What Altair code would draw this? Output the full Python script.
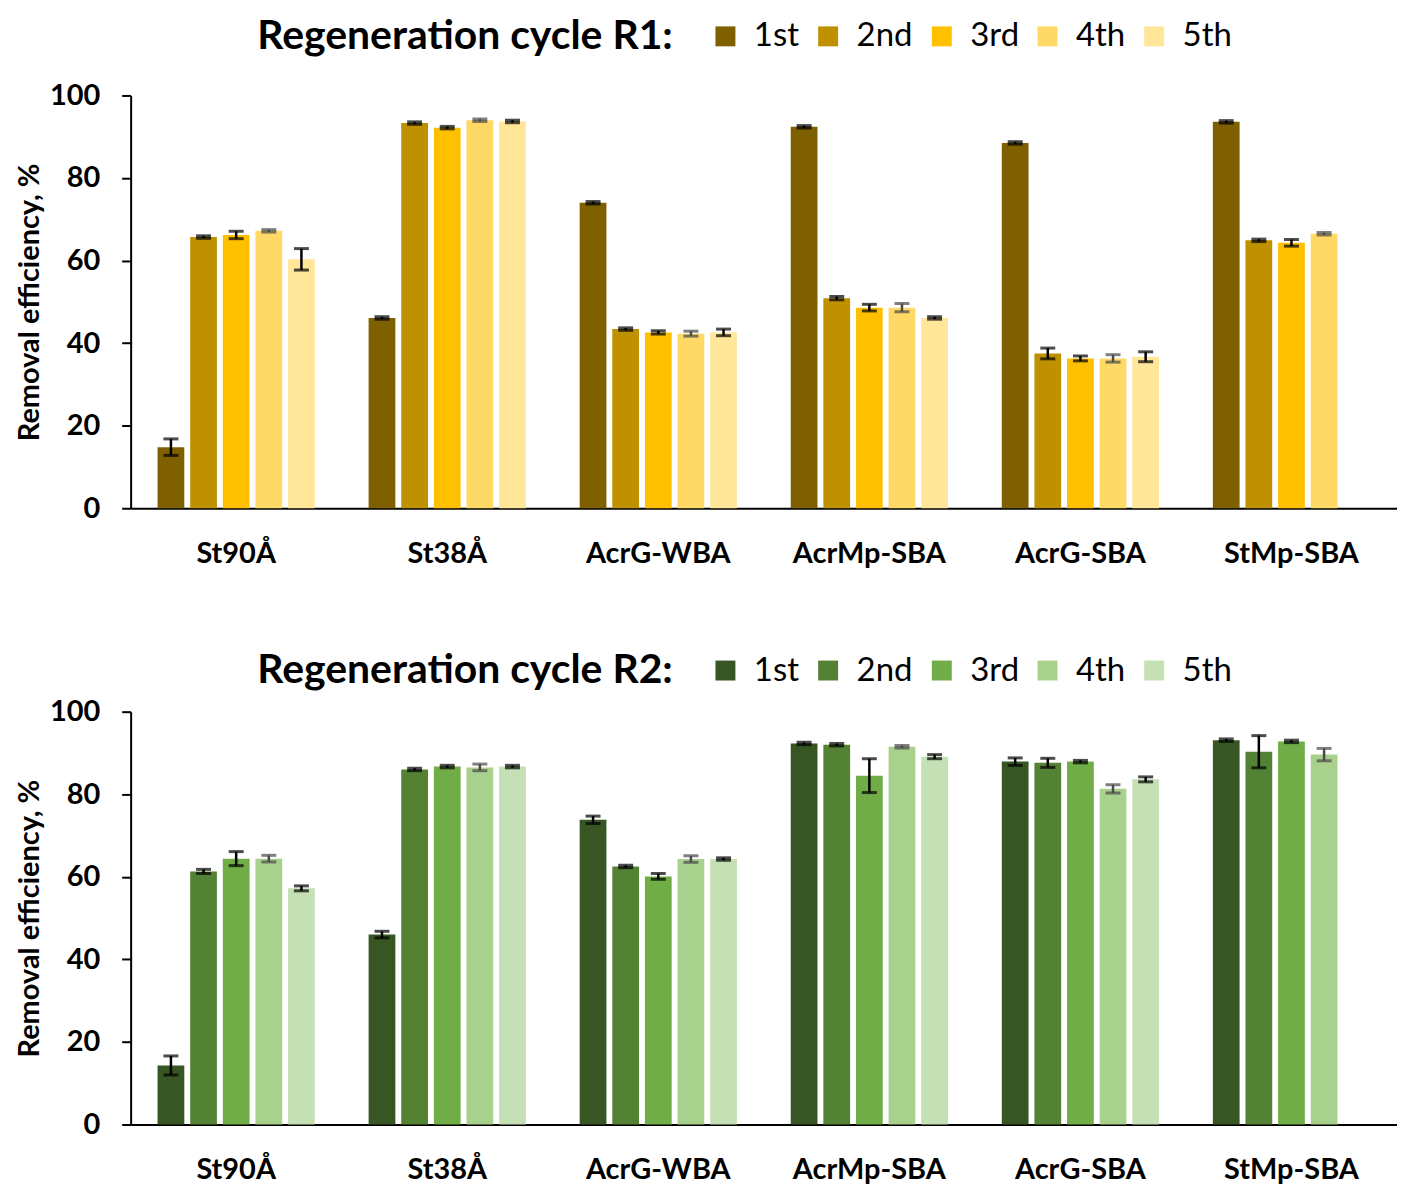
import altair as alt
import pandas as pd

groups = ["St90Å", "St38Å", "AcrG-WBA", "AcrMp-SBA", "AcrG-SBA", "StMp-SBA"]
cycles = ["1st", "2nd", "3rd", "4th", "5th"]

# Regeneration cycle R1 (mean, error)
r1_1st = [14.8, 46.1, 74.0, 92.4, 88.5, 93.6]
r1_2nd = [65.7, 93.3, 43.4, 50.9, 37.5, 64.9]
r1_3rd = [66.2, 92.2, 42.6, 48.6, 36.3, 64.3]
r1_4th = [67.2, 94.0, 42.3, 48.6, 36.3, 66.5]
r1_5th = [60.3, 93.7, 42.6, 46.1, 36.7, None]
r1_err_1st = [2.0, 0.3, 0.3, 0.3, 0.3, 0.3]
r1_err_2nd = [0.3, 0.3, 0.3, 0.4, 1.3, 0.3]
r1_err_3rd = [0.9, 0.3, 0.4, 0.8, 0.6, 0.8]
r1_err_4th = [0.3, 0.3, 0.6, 1.0, 0.9, 0.3]
r1_err_5th = [2.6, 0.3, 0.8, 0.3, 1.2, None]

# Regeneration cycle R2 (mean, error)
r2_1st = [14.3, 46.0, 73.8, 92.3, 87.9, 93.1]
r2_2nd = [61.3, 86.0, 62.5, 92.0, 87.6, 90.3]
r2_3rd = [64.4, 86.7, 60.1, 84.5, 87.9, 92.8]
r2_4th = [64.4, 86.5, 64.3, 91.5, 81.3, 89.6]
r2_5th = [57.2, 86.7, 64.3, 89.1, 83.6, None]
r2_err_1st = [2.3, 0.8, 0.9, 0.3, 0.9, 0.3]
r2_err_2nd = [0.5, 0.3, 0.3, 0.3, 1.1, 3.9]
r2_err_3rd = [1.7, 0.3, 0.7, 4.1, 0.3, 0.3]
r2_err_4th = [0.8, 0.8, 0.8, 0.3, 1.0, 1.5]
r2_err_5th = [0.6, 0.3, 0.3, 0.5, 0.6, None]

r1_colors = ["#7F6000", "#BF9000", "#FFC000", "#FFD966", "#FFE699"]
r2_colors = ["#375623", "#548235", "#70AD47", "#A9D18E", "#C5E0B4"]

FONT = "Lato"


def make_df(series, errors):
    rows = []
    for c, vals, errs in zip(cycles, series, errors):
        for g, v, e in zip(groups, vals, errs):
            if v is None:
                continue
            rows.append({"group": g, "cycle": c, "value": v, "lo": v - e, "hi": v + e})
    return pd.DataFrame(rows)


df1 = make_df([r1_1st, r1_2nd, r1_3rd, r1_4th, r1_5th],
              [r1_err_1st, r1_err_2nd, r1_err_3rd, r1_err_4th, r1_err_5th])
df2 = make_df([r2_1st, r2_2nd, r2_3rd, r2_4th, r2_5th],
              [r2_err_1st, r2_err_2nd, r2_err_3rd, r2_err_4th, r2_err_5th])

YTITLE = "Removal efficiency, %"


def yenc(field):
    return alt.Y(
        field,
        title=YTITLE,
        scale=alt.Scale(domain=[0, 100], nice=False, zero=True),
        axis=alt.Axis(values=[0, 20, 40, 60, 80, 100], labelFontSize=29, labelFont=FONT,
                      labelFontWeight="bold", labelColor="black", labelPadding=22,
                      tickColor="black", tickSize=9, tickWidth=2, domainColor="black",
                      domainWidth=2, grid=False, titleFontSize=29, titleFont=FONT,
                      titleFontWeight="bold", titleColor="black", titlePadding=5),
    )


ERR_COLOR = alt.condition(alt.datum.cycle == "4th", alt.value("#4a4a4a"), alt.value("black"))


def panel(df, colors, title, legend_y):
    base = alt.Chart(df).encode(
        x=alt.X("group:N", sort=groups, title=None,
                scale=alt.Scale(paddingInner=0.255, paddingOuter=0.1275),
                axis=alt.Axis(labelAngle=0, labelFontSize=29, labelFont=FONT,
                              labelFontWeight="bold", labelColor="black", labelPadding=31,
                              ticks=False, domainColor="black", domainWidth=2)),
        xOffset=alt.XOffset("cycle:N", sort=cycles,
                            scale=alt.Scale(paddingInner=0.18, paddingOuter=0)),
    )
    bars = base.mark_bar().encode(
        y=yenc("value:Q"),
        color=alt.Color(
            "cycle:N", sort=cycles,
            scale=alt.Scale(domain=cycles, range=colors),
            legend=alt.Legend(
                title=title, orient="none", legendX=127, legendY=legend_y,
                direction="horizontal", titleOrient="left", titleFontSize=41,
                titleFont=FONT, titleFontWeight="bold", titleColor="black",
                titlePadding=36, titleBaseline="middle", titleLimit=1000,
                symbolType="square", symbolSize=400, symbolStrokeWidth=0,
                labelFontSize=33, labelFont=FONT, labelColor="black", labelLimit=300,
                labelOffset=12, columnPadding=12,
            ),
        ),
    )
    rules = base.mark_rule(strokeWidth=2.5).encode(
        y=yenc("lo:Q"), y2="hi:Q", color=ERR_COLOR)
    caps_lo = base.mark_tick(thickness=3, size=15).encode(y=yenc("lo:Q"), color=ERR_COLOR)
    caps_hi = base.mark_tick(thickness=3, size=15).encode(y=yenc("hi:Q"), color=ERR_COLOR)
    return alt.layer(bars, rules, caps_lo, caps_hi).properties(width=1270, height=414)


top = panel(df1, r1_colors, "Regeneration cycle R1:", -76)
bottom = panel(df2, r2_colors, "Regeneration cycle R2:", -58)

chart = alt.vconcat(top, bottom, spacing=86).resolve_scale(
    color="independent").resolve_legend(color="independent").properties(
    padding={"left": 7, "top": 10, "right": 0, "bottom": 0},
    background="white",
).configure_view(stroke=None)

chart.save("out.html", embed_options={"renderer": "svg", "actions": False})
